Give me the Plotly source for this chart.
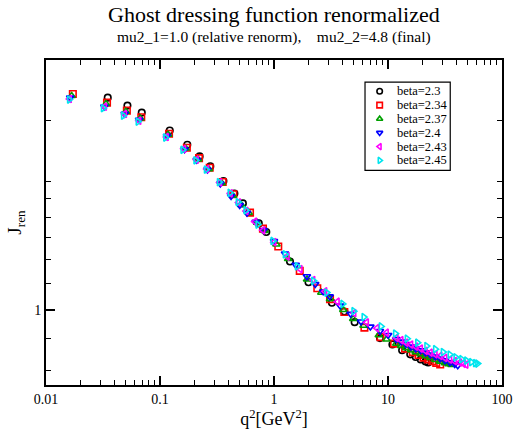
import plotly.graph_objects as go

# ---------------- data ----------------
labels = ["beta=2.3", "beta=2.34", "beta=2.37", "beta=2.4", "beta=2.43", "beta=2.45"]
colors = ["#000000", "#ff0000", "#00a000", "#0000ff", "#ff00ff", "#00e5ee"]
symbols = ["circle-open", "square-open", "triangle-up-open", "triangle-down-open",
           "triangle-left-open", "triangle-right-open"]

q2_b230 = [0.0348, 0.0518, 0.0692, 0.1218, 0.1736, 0.2225, 0.2763, 0.360, 0.4495, 0.5334,
           0.7357, 0.856, 1.381, 2.008, 3.222, 4.138, 5.10, 8.51, 10.93, 13.3, 15.67, 17.5,
           19.35, 21.35, 22.5]
J_b230 = [2.170, 2.108, 2.055, 1.925, 1.827, 1.751, 1.689, 1.600, 1.529, 1.475,
          1.371, 1.329, 1.193, 1.106, 1.026, 0.994, 0.956, 0.902, 0.881, 0.863, 0.850, 0.842,
          0.834, 0.828, 0.825]

q2_b234 = [0.0172, 0.0343, 0.0512, 0.0685, 0.120, 0.172, 0.220, 0.273, 0.355, 0.44, 0.616,
           0.80, 1.09, 1.682, 2.398, 3.1, 4.14, 6.21, 8.6, 11.3, 14.11, 16.5, 18.5, 20.5,
           22.5, 24.5, 26.5, 28.7]
J_b234 = [2.199, 2.131, 2.070, 2.020, 1.902, 1.807, 1.740, 1.680, 1.595, 1.525, 1.426,
          1.345, 1.260, 1.153, 1.082, 1.040, 0.992, 0.937, 0.905, 0.884, 0.868, 0.857, 0.848, 0.840,
          0.834, 0.829, 0.824, 0.819]

q2_b237 = [0.0168, 0.0336, 0.0502, 0.0672, 0.118, 0.168, 0.216, 0.268, 0.348, 0.435, 0.515,
           0.60, 0.71, 0.83, 1.05, 1.33, 1.95, 2.6, 3.1, 4.05, 4.95, 6.1, 8.3, 9.71, 11.82,
           13.05, 14.40, 15.89, 17.53, 19.35, 21.35, 23.56, 26.0, 28.68, 31.65, 34.0, 36.1]
J_b237 = [2.185, 2.122, 2.063, 2.012, 1.897, 1.803, 1.732, 1.672, 1.588, 1.518, 1.468,
          1.425, 1.375, 1.335, 1.270, 1.205, 1.118, 1.065, 1.040, 1.000, 0.968, 0.944, 0.912,
          0.898, 0.884, 0.877, 0.870, 0.863, 0.857, 0.851, 0.845, 0.839, 0.833, 0.828, 0.823,
          0.820, 0.818]

q2_b240 = [0.0163, 0.0325, 0.049, 0.0655, 0.115, 0.164, 0.21, 0.26, 0.338, 0.42, 0.50, 0.58,
           0.69, 0.81, 1.0, 1.25, 1.55, 1.943, 2.3, 2.699, 3.078, 3.8, 4.7, 5.8, 7.0, 8.5,
           10.04, 11.82, 13.05, 14.40, 15.89, 17.53, 19.35, 21.35, 23.56, 26.0, 28.68, 31.65,
           34.93, 38.5, 40.9]
J_b240 = [2.170, 2.100, 2.045, 2.000, 1.885, 1.797, 1.728, 1.668, 1.585, 1.515, 1.465, 1.425,
          1.378, 1.337, 1.285, 1.228, 1.178, 1.130, 1.098, 1.069, 1.050, 1.015, 0.985, 0.958,
          0.940, 0.925, 0.912, 0.898, 0.890, 0.882, 0.874, 0.868, 0.862, 0.855, 0.849, 0.843,
          0.837, 0.831, 0.825, 0.820, 0.816]

q2_b243 = [0.0161, 0.0327, 0.049, 0.0655, 0.114, 0.162, 0.209, 0.258, 0.335, 0.415, 0.49,
           0.57, 0.68, 0.80, 1.0, 1.31, 1.7, 2.2, 2.8, 3.6, 5.04, 6.5, 8.0, 9.71, 11.82, 13.05,
           14.40, 15.89, 17.53, 19.35, 21.35, 23.56, 26.0, 28.68, 31.65, 34.93, 38.5, 42.53,
           46.0, 48.5]
J_b243 = [2.160, 2.100, 2.045, 1.995, 1.880, 1.800, 1.730, 1.672, 1.592, 1.530, 1.480,
          1.435, 1.380, 1.337, 1.280, 1.215, 1.160, 1.115, 1.070, 1.030, 0.988, 0.955, 0.935,
          0.920, 0.903, 0.895, 0.887, 0.881, 0.874, 0.868, 0.861, 0.855, 0.850, 0.845, 0.839,
          0.834, 0.829, 0.825, 0.821, 0.819]

q2_b245 = [0.0160, 0.0317, 0.0476, 0.064, 0.1116, 0.1582, 0.2056, 0.2538, 0.330, 0.410,
           0.4833, 0.566, 0.72, 0.975, 1.25, 1.595, 2.216, 2.9, 4.001, 5.0, 6.135, 8.68, 11.59,
           14.68, 18.13, 21.8, 26.0, 30.4, 34.9, 39.3, 44.2, 48.8, 53.9, 58.3, 61.0]
J_b245 = [2.155, 2.088, 2.032, 1.989, 1.876, 1.794, 1.726, 1.669, 1.594, 1.533,
          1.482, 1.438, 1.365, 1.286, 1.225, 1.172, 1.112, 1.065, 1.022, 0.995, 0.974, 0.941,
          0.917, 0.900, 0.887, 0.876, 0.866, 0.857, 0.849, 0.841, 0.835, 0.831, 0.826, 0.823,
          0.822]

series_q2 = [q2_b230, q2_b234, q2_b237, q2_b240, q2_b243, q2_b245]
series_J = [J_b230, J_b234, J_b237, J_b240, J_b243, J_b245]

x_tickvals = [0.01, 0.1, 1, 10, 100]
x_ticktext = ["0.01", "0.1", "1", "10", "100"]
y_tickvals = [1]
y_ticktext = ["1"]
y_minor = [0.8, 0.9, 1.1, 1.2, 1.3, 1.4, 1.5, 1.6, 2.0]

title_text = "Ghost dressing function renormalized"
subtitle_text = "mu2_1=1.0 (relative renorm),&nbsp;&nbsp;&nbsp;&nbsp;mu2_2=4.8 (final)"

# ---------------- figure ----------------
FONT = "Liberation Serif"
fig = go.Figure()
for lab, col, sym, xs, ys in zip(labels, colors, symbols, series_q2, series_J):
    fig.add_trace(go.Scatter(
        x=xs, y=ys, mode="markers", name=lab, showlegend=False,
        marker=dict(symbol=sym, size=6.5, color=col, line=dict(color=col, width=1.6)),
    ))

# custom legend (box, keys, labels) in plot-area fractions
leg_box = dict(x0=0.6996, x1=0.8865, y0=0.6606, y1=0.9318)
leg_key_x = 0.7317
leg_text_x = 0.7666
leg_rows_y = [0.9037, 0.8612, 0.8187, 0.7761, 0.7336, 0.6911]

fig.add_shape(type="rect", xref="paper", yref="paper", line=dict(color="black", width=1.2),
              fillcolor="white", layer="below", **leg_box)
for lab, col, sym, yy in zip(labels, colors, symbols, leg_rows_y):
    fig.add_trace(go.Scatter(
        x=[leg_key_x], y=[yy], xaxis="x2", yaxis="y2", mode="markers", showlegend=False,
        hoverinfo="skip",
        marker=dict(symbol=sym, size=5.5, color=col, line=dict(color=col, width=1.6)),
    ))
    fig.add_annotation(text=lab, xref="paper", yref="paper", x=leg_text_x, y=yy,
                       xanchor="left", yanchor="middle", showarrow=False, borderpad=0,
                       font=dict(family=FONT, size=12.5, color="black"))

x_minor = []
for d in [0.01, 0.1, 1, 10]:
    for m in range(2, 10):
        x_minor.append(round(d * m, 6))

axis_common = dict(
    showline=True, linecolor="black", linewidth=2, mirror="allticks",
    ticks="inside", tickcolor="black", tickwidth=1.5, ticklen=9,
    showgrid=False, zeroline=False,
    tickfont=dict(family=FONT, size=14, color="black"),
)

fig.update_xaxes(
    type="log", range=[-2, 2.0], tickmode="array",
    tickvals=x_tickvals, ticktext=x_ticktext,
    minor=dict(tickmode="array", tickvals=x_minor, ticks="inside", ticklen=5,
               tickwidth=1.2, tickcolor="black", showgrid=False),
    title=dict(text="q<sup>2</sup>[GeV<sup>2</sup>]", font=dict(family=FONT, size=18, color="black"),
               standoff=2),
    **axis_common,
)
fig.update_yaxes(
    type="log", range=[-0.1192, 0.3962], tickmode="array",
    tickvals=y_tickvals, ticktext=y_ticktext,
    minor=dict(tickmode="array", tickvals=y_minor, ticks="inside", ticklen=5,
               tickwidth=1.2, tickcolor="black", showgrid=False),
    title=dict(text="J<sub>ren</sub>", font=dict(family=FONT, size=19, color="black"),
               standoff=8),
    **axis_common,
)

fig.update_layout(
    xaxis2=dict(overlaying="x", anchor="y2", range=[0, 1], visible=False, fixedrange=True),
    yaxis2=dict(overlaying="y", anchor="x2", range=[0, 1], visible=False, fixedrange=True),
)

fig.add_annotation(text=title_text, xref="paper", yref="paper", x=0.5, y=1.0,
                   yshift=45.5, showarrow=False, xanchor="center", yanchor="middle", borderpad=0,
                   font=dict(family=FONT, size=22, color="black"))
fig.add_annotation(text=subtitle_text, xref="paper", yref="paper", x=0.5, y=1.0,
                   yshift=23.5, showarrow=False, xanchor="center", yanchor="middle", borderpad=0,
                   font=dict(family=FONT, size=15.5, color="black"))

fig.update_layout(
    width=522, height=430,
    margin=dict(l=46, r=9, t=60, b=43),
    paper_bgcolor="white", plot_bgcolor="white",
    showlegend=False,
    font=dict(family=FONT, color="black"),
)

fig.write_html("out.html")
